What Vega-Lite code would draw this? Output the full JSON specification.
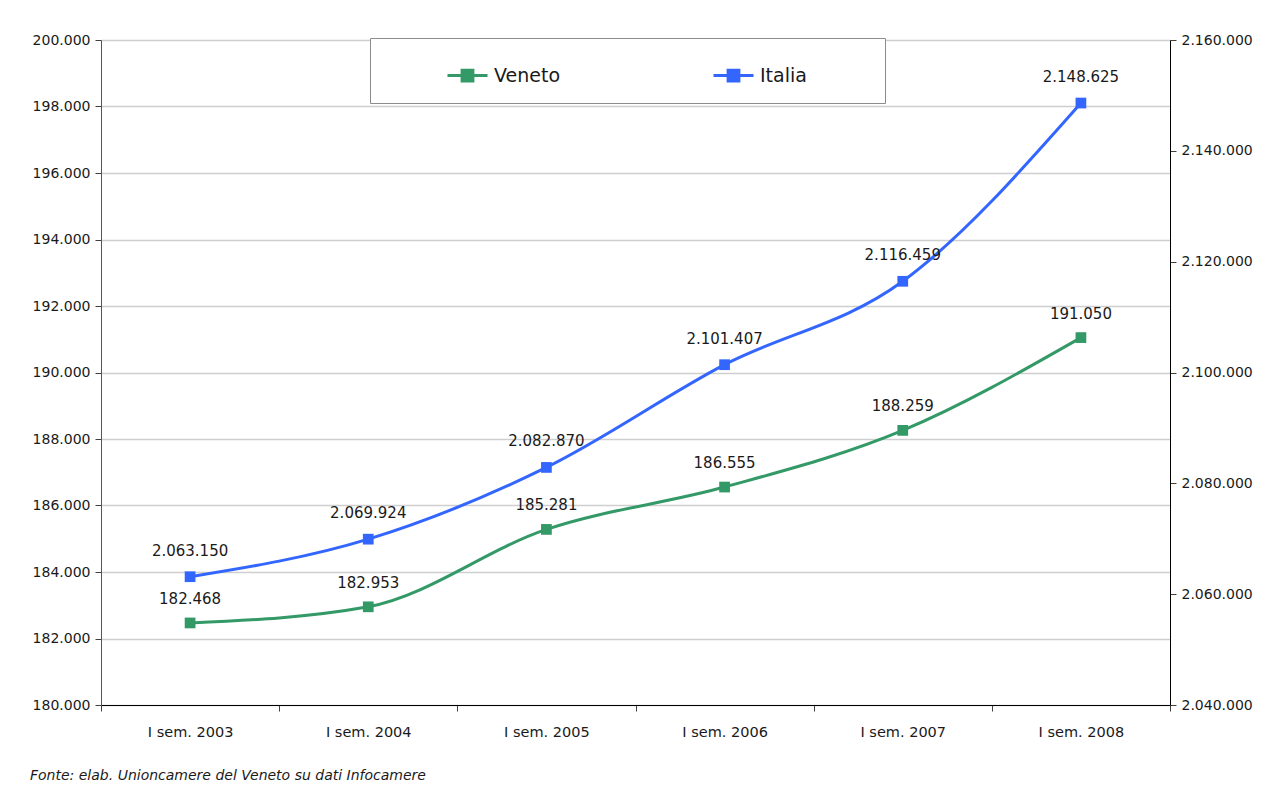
{
  "$schema": "https://vega.github.io/schema/vega-lite/v6.json",
  "autosize": "none",
  "width": 1069,
  "height": 665,
  "padding": {"left": 101, "top": 40, "right": 96, "bottom": 84},
  "background": "white",
  "config": {
    "locale": {"number": {"decimal": ",", "thousands": ".", "grouping": [3], "currency": ["€", ""]}},
    "font": "DejaVu Sans",
    "view": {"stroke": null},
    "axis": {"labelFont": "DejaVu Sans", "labelFontSize": 14, "labelColor": "#1a1a1a", "domainColor": "#404040", "tickColor": "#404040", "titleFontSize": 14}
  },
  "title": {
    "text": "Fonte: elab. Unioncamere del Veneto su dati Infocamere",
    "orient": "bottom",
    "anchor": "start",
    "frame": "group",
    "dx": -71,
    "offset": 30,
    "font": "DejaVu Sans",
    "fontSize": 14,
    "fontStyle": "italic",
    "fontWeight": "normal",
    "color": "#1a1a1a"
  },
  "data": {
    "values": [
      {"periodo": "I sem. 2003", "serie": "Veneto", "valore": 182468},
      {"periodo": "I sem. 2004", "serie": "Veneto", "valore": 182953},
      {"periodo": "I sem. 2005", "serie": "Veneto", "valore": 185281},
      {"periodo": "I sem. 2006", "serie": "Veneto", "valore": 186555},
      {"periodo": "I sem. 2007", "serie": "Veneto", "valore": 188259},
      {"periodo": "I sem. 2008", "serie": "Veneto", "valore": 191050},
      {"periodo": "I sem. 2003", "serie": "Italia", "valore": 2063150},
      {"periodo": "I sem. 2004", "serie": "Italia", "valore": 2069924},
      {"periodo": "I sem. 2005", "serie": "Italia", "valore": 2082870},
      {"periodo": "I sem. 2006", "serie": "Italia", "valore": 2101407},
      {"periodo": "I sem. 2007", "serie": "Italia", "valore": 2116459},
      {"periodo": "I sem. 2008", "serie": "Italia", "valore": 2148625}
    ]
  },
  "encoding": {
    "x": {
      "field": "periodo",
      "type": "nominal",
      "sort": null,
      "scale": {"type": "band", "paddingInner": 0, "paddingOuter": 0},
      "axis": {"title": null, "labelAngle": 0, "tickBand": "extent", "tickSize": 6, "labelPadding": 14, "labelFontSize": 14.5, "domainColor": "#000000", "tickColor": "#404040"}
    }
  },
  "layer": [
    {
      "transform": [{"filter": "datum.serie === 'Veneto'"}],
      "encoding": {
        "y": {
          "field": "valore",
          "type": "quantitative",
          "scale": {"domain": [180000, 200000], "zero": false, "nice": false},
          "axis": {
            "title": null,
            "orient": "left",
            "values": [180000, 182000, 184000, 186000, 188000, 190000, 192000, 194000, 196000, 198000, 200000],
            "format": ",d",
            "grid": true,
            "gridColor": "#cfcfcf",
            "gridWidth": 1.5,
            "tickSize": 6,
            "labelPadding": 5,
            "domainColor": "#555555"
          }
        }
      },
      "layer": [
        {
          "mark": {"type": "line", "interpolate": "monotone", "strokeWidth": 3},
          "encoding": {
            "color": {
              "field": "serie",
              "type": "nominal",
              "scale": {"domain": ["Veneto", "Italia"], "range": ["#339966", "#3366ff"]},
              "legend": {
                "title": "\u200b",
                "titleOrient": "right",
                "titlePadding": 62,
                "titleFontSize": 10,
                "orient": "none",
                "legendX": 269,
                "legendY": -2,
                "direction": "horizontal",
                "fillColor": "white",
                "strokeColor": "#8c8c8c",
                "padding": 16,
                "symbolType": "M-1,0L1,0M-0.27,-0.27L0.27,-0.27L0.27,0.27L-0.27,0.27Z",
                "symbolSize": 1600,
                "symbolStrokeWidth": 3,
                "symbolOffset": 60,
                "labelOffset": 5,
                "labelFontSize": 19,
                "labelFont": "DejaVu Sans",
                "labelColor": "#1a1a1a",
                "columnPadding": 91
              }
            }
          }
        },
        {
          "mark": {"type": "point", "shape": "square", "filled": true, "size": 115, "opacity": 1},
          "encoding": {"color": {"field": "serie", "type": "nominal", "legend": null}}
        },
        {
          "mark": {"type": "text", "dy": -24, "fontSize": 15, "color": "#1a1a1a"},
          "encoding": {"text": {"field": "valore", "type": "quantitative", "format": ",d"}}
        }
      ]
    },
    {
      "transform": [{"filter": "datum.serie === 'Italia'"}],
      "encoding": {
        "y": {
          "field": "valore",
          "type": "quantitative",
          "scale": {"domain": [2040000, 2160000], "zero": false, "nice": false},
          "axis": {
            "title": null,
            "orient": "right",
            "values": [2040000, 2060000, 2080000, 2100000, 2120000, 2140000, 2160000],
            "format": ",d",
            "grid": false,
            "tickSize": 6,
            "labelPadding": 5,
            "domainColor": "#000000"
          }
        }
      },
      "layer": [
        {
          "mark": {"type": "line", "interpolate": "monotone", "strokeWidth": 3},
          "encoding": {"color": {"field": "serie", "type": "nominal", "legend": null}}
        },
        {
          "mark": {"type": "point", "shape": "square", "filled": true, "size": 115, "opacity": 1},
          "encoding": {"color": {"field": "serie", "type": "nominal", "legend": null}}
        },
        {
          "mark": {"type": "text", "dy": -26, "fontSize": 15, "color": "#1a1a1a"},
          "encoding": {"text": {"field": "valore", "type": "quantitative", "format": ",d"}}
        }
      ]
    }
  ],
  "resolve": {"scale": {"y": "independent"}, "axis": {"y": "independent"}}
}
